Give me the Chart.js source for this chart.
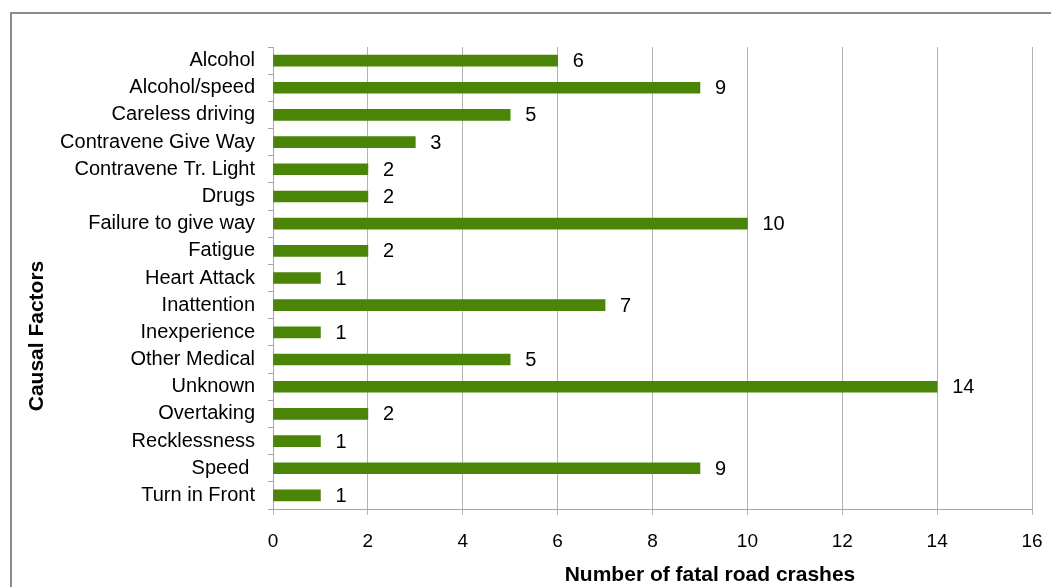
<!DOCTYPE html>
<html>
<head>
<meta charset="utf-8">
<script src="https://cdn.jsdelivr.net/npm/chart.js@4"></script>
<style>
  html, body { margin: 0; padding: 0; background: #fff; }
  #wrap { width: 1051px; height: 587px; }
</style>
</head>
<body>
<div id="wrap"><canvas id="crashChart" width="1051" height="587"></canvas></div>
<script>
// chart data
const categories = ['Alcohol', 'Alcohol/speed', 'Careless driving', 'Contravene Give Way',
    'Contravene Tr. Light', 'Drugs', 'Failure to give way', 'Fatigue', 'Heart Attack',
    'Inattention', 'Inexperience', 'Other Medical', 'Unknown', 'Overtaking',
    'Recklessness', 'Speed ', 'Turn in Front'];
const crashes = [6, 9, 5, 3, 2, 2, 10, 2, 1, 7, 1, 5, 14, 2, 1, 9, 1];
const xTicks = [0, 2, 4, 6, 8, 10, 12, 14, 16];
const xTitle = 'Number of fatal road crashes';
const yTitle = 'Causal Factors';

const FONT = '"Liberation Sans", Arial, sans-serif';

// frame, value labels and axis titles
const extras = {
    id: 'extras',
    beforeDraw(chart) {
        const c = chart.ctx;
        c.save();
        c.fillStyle = '#fff';
        c.fillRect(0, 0, chart.width, chart.height);
        c.strokeStyle = '#8c8c8c';
        c.lineWidth = 2;
        c.strokeRect(11, 13, chart.width + 20, chart.height + 20);
        c.restore();
    },
    afterDatasetsDraw(chart) {
        const c = chart.ctx;
        const meta = chart.getDatasetMeta(0);
        c.save();
        c.font = '20px ' + FONT;
        c.fillStyle = '#000';
        c.textAlign = 'left';
        c.textBaseline = 'middle';
        meta.data.forEach((bar, i) => {
            c.fillText(String(crashes[i]), bar.x + 15, bar.y + 1);
        });
        c.restore();
    },
    afterDraw(chart) {
        const c = chart.ctx;
        c.save();
        c.fillStyle = '#000';
        c.font = 'bold 21px ' + FONT;
        c.textAlign = 'center';
        c.textBaseline = 'middle';
        c.fillText(xTitle, 710, 575);
        c.translate(37, 336);
        c.rotate(-Math.PI / 2);
        c.fillText(yTitle, 0, 0);
        c.restore();
    }
};

const ctx = document.getElementById('crashChart').getContext('2d');
new Chart(ctx, {
    type: 'bar',
    data: {
        labels: categories,
        datasets: [{
            data: crashes,
            backgroundColor: '#4a8508',
            borderWidth: 0,
            barThickness: 11
        }]
    },
    options: {
        indexAxis: 'y',
        responsive: false,
        animation: false,
        layout: { padding: { top: 47, right: 19, left: 0, bottom: 0 } },
        plugins: {
            legend: { display: false },
            tooltip: { enabled: false }
        },
        scales: {
            x: {
                min: 0,
                max: 16,
                afterFit: s => {
                    s.height = 78;
                    s.paddingLeft = 0;
                    s.paddingRight = 0;
                },
                afterBuildTicks: s => { s.ticks = xTicks.map(v => ({ value: v })); },
                border: { color: '#a6a6a6', width: 1 },
                grid: { color: '#b3b3b3', lineWidth: 1, tickLength: 6 },
                ticks: {
                    color: '#000',
                    padding: 15,
                    font: { family: FONT, size: 19 }
                }
            },
            y: {
                afterFit: s => { s.width = 273; },
                border: { color: '#a6a6a6', width: 1 },
                grid: { drawOnChartArea: false, tickLength: 5, color: '#a6a6a6' },
                ticks: {
                    color: '#000',
                    padding: 13,
                    autoSkip: false,
                    font: { family: FONT, size: 20 }
                }
            }
        }
    },
    plugins: [extras]
});
</script>
</body>
</html>
